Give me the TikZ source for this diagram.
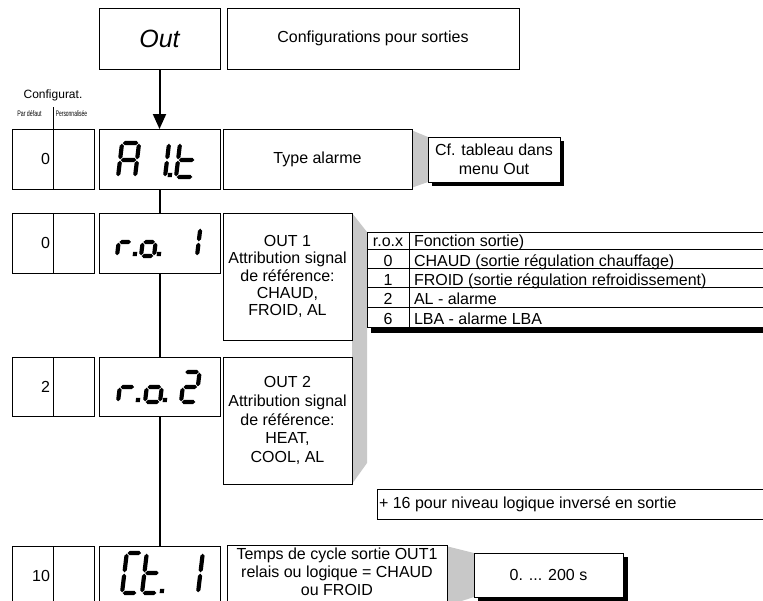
\documentclass[tikz,border=0pt]{standalone}
\usepackage{fontspec}
\setmainfont{Liberation Sans}
\usetikzlibrary{arrows.meta}
\definecolor{callout}{RGB}{200,200,200}

% seven-segment glyph geometry (cell width, height, bar thickness, gap)
\newcommand{\sgW}{14}
\newcommand{\sgH}{30}
\newcommand{\sgT}{4.2}
\newcommand{\sgG}{0.7}
% horizontal bar at height #1
\newcommand{\segH}[1]{\fill ({\sgG},{#1}) -- ({\sgG+\sgT/2},{#1-\sgT/2}) -- ({\sgW-\sgG-\sgT/2},{#1-\sgT/2}) -- ({\sgW-\sgG},{#1}) -- ({\sgW-\sgG-\sgT/2},{#1+\sgT/2}) -- ({\sgG+\sgT/2},{#1+\sgT/2}) -- cycle;}
% vertical bar at x=#1 from #2 to #3
\newcommand{\segV}[3]{\fill ({#1},{#2+\sgG}) -- ({#1+\sgT/2},{#2+\sgG+\sgT/2}) -- ({#1+\sgT/2},{#3-\sgG-\sgT/2}) -- ({#1},{#3-\sgG}) -- ({#1-\sgT/2},{#3-\sgG-\sgT/2}) -- ({#1-\sgT/2},{#2+\sgG+\sgT/2}) -- cycle;}
\newcommand{\sgsa}{\segH{-\sgH}}
\newcommand{\sgsg}{\segH{-\sgH/2}}
\newcommand{\sgsd}{\segH{0}}
\newcommand{\sgsf}{\segV{0}{-\sgH}{-\sgH/2}}
\newcommand{\sgse}{\segV{0}{-\sgH/2}{0}}
\newcommand{\sgsb}{\segV{\sgW}{-\sgH}{-\sgH/2}}
\newcommand{\sgsc}{\segV{\sgW}{-\sgH/2}{0}}
\newcommand{\sgsp}{\fill ({\sgW+2.6},{-\sgT}) rectangle ({\sgW+2.6+\sgT},0);}
% one display cell at offset #1 with the listed segments lit
\newcommand{\lcd}[2]{\begin{scope}[xshift=#1]\foreach \s in {#2}{\csname sgs\s\endcsname}\end{scope}}

\begin{document}
\begin{tikzpicture}[x=1pt,y=-1pt,
  box/.style={draw, line width=0.9pt, fill=white, inner sep=0pt, outer sep=0pt, align=center,
              font=\fontsize{16}{18}\selectfont},
  plain/.style={inner sep=0pt, outer sep=0pt, font=\fontsize{16}{18}\selectfont},
  cell/.style={plain, anchor=base},
  celltext/.style={plain, anchor=base west},
  tiny/.style={plain, font=\fontsize{8}{9}\selectfont},
  conn/.style={line width=2pt},
  lcdseg/.style={xslant=0.12}]
\useasboundingbox (0,0) rectangle (763,600);
\clip (0,0) rectangle (763,600);

% grey callout wedges
\fill[callout] (411,130) -- (428,137) -- (428,182) -- (411,188) -- cycle;
\fill[callout] (352,213) -- (367,232) -- (367,463) -- (352,484) -- cycle;
\fill[callout] (446,546) -- (474,553) -- (474,597) -- (446,606) -- cycle;

% header
\node[box, minimum width=121, minimum height=61, font=\fontsize{25}{28}\selectfont\itshape] (out) at (159.5,38.5) {Out};
\node[box, minimum width=292, minimum height=61] (title) at (373,38.5) {Configurations pour sorties};

% column heads of the configuration boxes
\node[plain, font=\fontsize{12}{14}\selectfont] (cfghead) at (53,95) {Configurat.};
\node[tiny] (pardef) at (29.5,114) {\scalebox{0.66}[1]{Par défaut}};
\node[tiny] (perso) at (71.5,114) {\scalebox{0.62}[1]{Personnalisée}};
\coordinate (divtop) at (53,107);

% row 1 : A1.t
\node[box, minimum width=82, minimum height=60] (cfgA) at (53,159) {};
\node[box, minimum width=121, minimum height=60] (dispA) at (159.5,159) {};
\node[box, minimum width=189, minimum height=60] (descA) at (317.5,159) {Type alarme};
\fill[black] (432,141) rectangle (564,186);
\node[box, minimum width=132, minimum height=45, font=\fontsize{16}{19.5}\selectfont] (cf) at (494,159.5) {Cf. tableau dans\\menu Out};
\draw[line width=0.9pt] (divtop) -- (cfgA.south);
\node[plain, anchor=east] (valA) at (50,159) {0};

% row 2 : r.o.1
\node[box, minimum width=82, minimum height=60] (cfgB) at (53,243) {};
\node[box, minimum width=121, minimum height=60] (dispB) at (159.5,243) {};
\node[box, minimum width=129, minimum height=127, font=\fontsize{16}{17.2}\selectfont] (descB) at (287.5,276.5) {OUT 1\\Attribution signal\\de référence:\\CHAUD,\\FROID, AL};
\draw[line width=0.9pt] (cfgB.north) -- (cfgB.south);
\node[plain, anchor=east] (valB) at (50,243) {0};

% row 3 : r.o.2
\node[box, minimum width=82, minimum height=59] (cfgC) at (53,386.5) {};
\node[box, minimum width=121, minimum height=59] (dispC) at (159.5,386.5) {};
\node[box, minimum width=129, minimum height=127, font=\fontsize{16}{18.8}\selectfont] (descC) at (287.5,420.5) {OUT 2\\Attribution signal\\de référence:\\HEAT,\\COOL, AL};
\draw[line width=0.9pt] (cfgC.north) -- (cfgC.south);
\node[plain, anchor=east] (valC) at (50,386.5) {2};

% row 4 : Ct.1
\node[box, minimum width=82, minimum height=60] (cfgD) at (53,576) {};
\node[box, minimum width=121, minimum height=60] (dispD) at (159.5,576) {};
\node[box, minimum width=220, minimum height=62] (descD) at (337,576) {};
\node[plain, anchor=north, align=center, font=\fontsize{16}{18}\selectfont] (descDtxt) at (337,548) {Temps de cycle sortie OUT1\\relais ou logique = CHAUD\\ou FROID};
\fill[black] (478,557) rectangle (628,601);
\node[box, minimum width=149, minimum height=44] (range) at (548.5,575) {0. ... 200 s};
\draw[line width=0.9pt] (cfgD.north) -- (cfgD.south);
\node[plain, anchor=east] (valD) at (50,576) {10};

% vertical flow line
\draw[conn, -{Triangle[length=15pt,width=13pt]}] (out.south) -- (dispA.north);
\draw[conn] (dispA.south) -- (dispB.north);
\draw[conn] (dispB.south) -- (dispC.north);
\draw[conn] (dispC.south) -- (dispD.north);

% output function table
\fill[black] (371,327) rectangle (800,333);
\fill[white] (367,232) rectangle (800,327);
\draw[line width=0.8pt] (800,232) -- (367,232) -- (367,327) -- (800,327);
\draw[line width=0.8pt] (409,232) -- (409,327);
\foreach \yy in {249,268,287,307} \draw[line width=0.8pt] (367,\yy) -- (800,\yy);
\node[cell] (h1) at (388,246.5) {r.o.x};
\node[celltext] (h2) at (414,246.5) {Fonction sortie)};
\node[cell] (k0) at (388,266) {0};
\node[celltext] (v0) at (414,266) {CHAUD (sortie régulation chauffage)};
\node[cell] (k1) at (388,285.5) {1};
\node[celltext] (v1) at (414,285.5) {FROID (sortie régulation refroidissement)};
\node[cell] (k2) at (388,304.5) {2};
\node[celltext] (v2) at (414,304.5) {AL - alarme};
\node[cell] (k6) at (388,324.5) {6};
\node[celltext] (v6) at (414,324.5) {LBA - alarme LBA};

% inverted logic note
\node[box, minimum width=423, minimum height=30] (plus) at (588.5,504) {};
\node[plain, anchor=west] (plustxt) at (379,504) {+ 16 pour niveau logique inversé en sortie};

% seven-segment readouts
\begin{scope}[shift={(0,177)}, lcdseg]
  \renewcommand{\sgH}{34}\renewcommand{\sgW}{17}
  \lcd{118}{a,b,c,e,f,g}\lcd{148}{b,c,p}\lcd{176}{d,e,f,g}
\end{scope}
\begin{scope}[shift={(0,256)}, lcdseg]
  \renewcommand{\sgH}{28}\renewcommand{\sgW}{13}
  \lcd{117}{e,g,p}\lcd{141}{c,d,e,g,p}\lcd{184}{b,c}
\end{scope}
\begin{scope}[shift={(0,402)}, lcdseg]
  \renewcommand{\sgH}{30}\renewcommand{\sgW}{15}
  \lcd{118}{e,g,p}\lcd{145}{c,d,e,g,p}\lcd{181}{a,b,g,e,d}
\end{scope}
\begin{scope}[shift={(0,593)}, lcdseg]
  \renewcommand{\sgH}{40}\renewcommand{\sgW}{15}
  \lcd{122}{a,d,e,f}\lcd{142}{d,e,f,g,p}\lcd{183}{b,c}
\end{scope}
\end{tikzpicture}
\end{document}
